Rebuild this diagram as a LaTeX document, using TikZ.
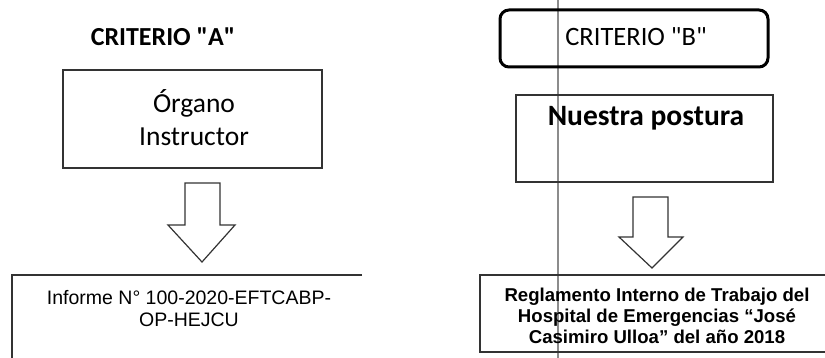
\documentclass[tikz,border=0pt]{standalone}
\usepackage{fontspec}
\setmainfont{Liberation Sans}
\newfontfamily\calib{Carlito}
\usetikzlibrary{calc}
\begin{document}
\begin{tikzpicture}[x=1pt,y=-1pt,
  box/.style={draw=black!80, line width=1.3pt},
  blockarrow/.style={draw=black!80, line width=1.2pt, fill=white, line join=miter},
  title/.style={inner sep=0pt, font=\calib\bfseries\fontsize{26}{30}\selectfont},
  bigtxt/.style={inner sep=0pt, align=center, font=\calib\fontsize{27.5}{33}\selectfont},
  smalltxt/.style={inner sep=0pt, align=center, font=\fontsize{19.5}{22}\selectfont}]
\useasboundingbox (0,0) rectangle (825,358);
% scan line
\draw[black!45, line width=1.6pt] (558,0) -- (558,358);
% left column
\node[title] (ca) at (163,37) {CRITERIO "A"};
\node[box, minimum width=259pt, minimum height=98pt, inner sep=0pt] (oi) at (192.5,119) {};
\node[bigtxt] (oit) at (194,118) {Órgano\\Instructor};
\draw[blockarrow] (185,183) -- (220,183) -- (220,225) -- (235,225) -- (202,262) -- (168,225) -- (185,225) -- cycle;
\coordinate (la) at (12,275);
\draw[box] (362,275) -- (la) -- (12,358);
\node[smalltxt] (inf) at (189,309) {Informe N° 100-2020-EFTCABP-\\OP-HEJCU};
% right column
\node[draw=black, line width=3pt, rounded corners=9pt, minimum width=268pt, minimum height=57pt, inner sep=0pt] (cb) at (634,38.5) {};
\node[inner sep=0pt, font=\calib\fontsize{26.5}{31}\selectfont] (cbt) at (636,37) {CRITERIO "B"};
\node[box, minimum width=257pt, minimum height=87pt, inner sep=0pt] (np) at (644.5,138.5) {};
\node[inner sep=0pt, font=\calib\bfseries\fontsize{29.5}{35}\selectfont] (npt) at (646,118) {Nuestra postura};
\draw[blockarrow] (633,197) -- (668,197) -- (668,237) -- (683,237) -- (652,268) -- (619,237) -- (633,237) -- cycle;
\draw[box] (825,275) -- (480,275) -- (480,352) -- (825,352);
\node[inner sep=0pt, align=center, font=\bfseries\fontsize{18.6}{21}\selectfont] (rit) at (657,316) {Reglamento Interno de Trabajo del\\Hospital de Emergencias “José\\Casimiro Ulloa” del año 2018};
\end{tikzpicture}
\end{document}
